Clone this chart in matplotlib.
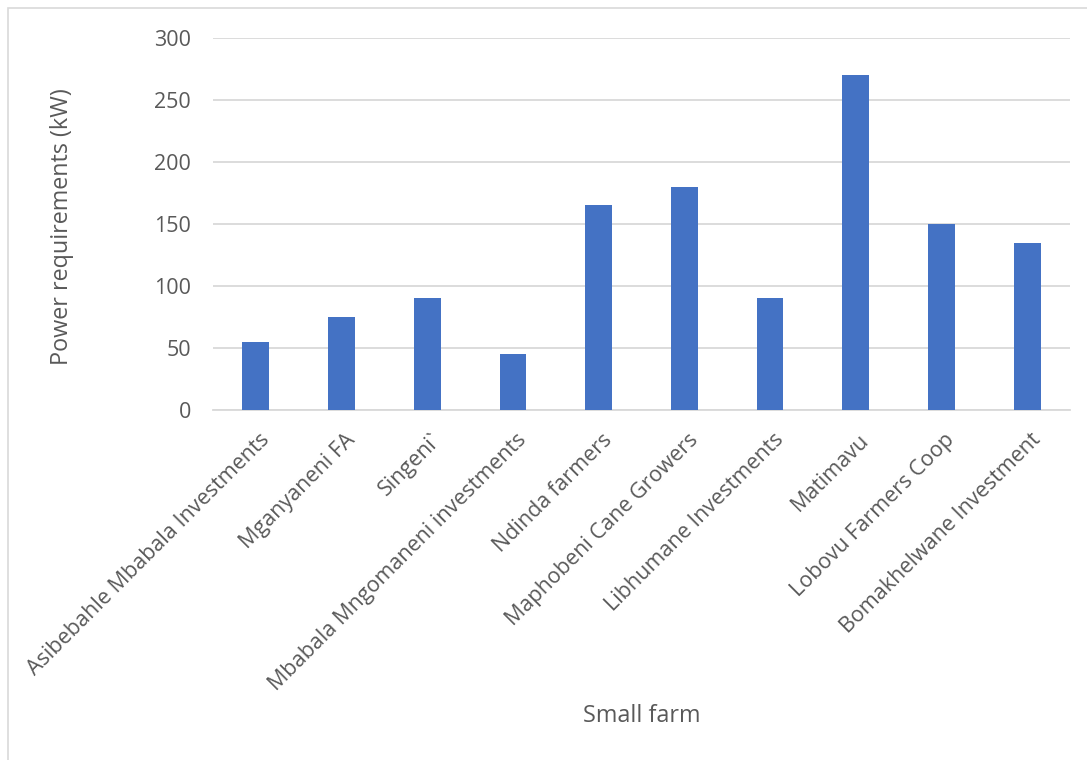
import matplotlib
matplotlib.use("Agg")
import matplotlib.pyplot as plt
from matplotlib.patches import Rectangle
import matplotlib.transforms as mtransforms
import numpy as np

farms = [
    "Asibebahle Mbabala Investments",
    "Mganyaneni FA",
    "Singeni`",
    "Mbabala Mngomaneni investments",
    "Ndinda farmers",
    "Maphobeni Cane Growers",
    "Libhumane Investments",
    "Matimavu",
    "Lobovu Farmers Coop",
    "Bomakhelwane Investment",
]
power_kw = [55, 75, 90, 45, 165, 180, 90, 270, 150, 135]
y_ticks = [0, 50, 100, 150, 200, 250, 300]

plt.rcParams["font.family"] = ["Open Sans", "DejaVu Sans"]
text_color = "#595959"
grid_color = "#D9D9D9"
bar_color = "#4472C4"

W, H = 1087, 760
fig = plt.figure(figsize=(W / 100, H / 100), dpi=100)
fig.patch.set_facecolor("white")

# chart-area frame
fig.patches.append(Rectangle((8 / W, -0.05), 1.2, (H - 8) / H + 0.05,
                             transform=fig.transFigure, fill=False,
                             edgecolor="#D9D9D9", linewidth=1.2))

left, right = 213 / W, 1070 / W
bottom, top = (H - 410) / H, (H - 38) / H
ax = fig.add_axes([left, bottom, right - left, top - bottom])

x = np.arange(len(farms))
ax.bar(x, power_kw, width=1 / 3.19, color=bar_color, zorder=3)

ax.set_xlim(-0.5, len(farms) - 0.5)
ax.set_ylim(0, 300)
ax.set_yticks(y_ticks)
ax.set_yticklabels([str(v) for v in y_ticks], fontsize=15.5, color=text_color)
ax.yaxis.grid(True, color=grid_color, linewidth=1.3, zorder=0)
ax.tick_params(axis="y", length=0, pad=16)
ax.tick_params(axis="x", length=0, pad=14)

ax.set_xticks(x)
ax.set_xticklabels(farms, rotation=45, ha="right", va="top",
                   rotation_mode="anchor", fontsize=15.5, color=text_color)
shift = mtransforms.ScaledTranslation(3 / 100, 0, fig.dpi_scale_trans)
for lbl in ax.get_xticklabels():
    lbl.set_transform(lbl.get_transform() + shift)

for side in ["top", "right", "left"]:
    ax.spines[side].set_visible(False)
ax.spines["bottom"].set_color(grid_color)
ax.spines["bottom"].set_linewidth(1.3)

fig.text(62 / W, 1 - 227 / H, "Power requirements (kW)", rotation=90,
         ha="center", va="center", fontsize=16.8, color=text_color)
fig.text(642 / W, 1 - 716 / H, "Small farm", ha="center", va="center",
         fontsize=16.8, color=text_color)

fig.savefig("out.png", dpi=100, facecolor="white")
